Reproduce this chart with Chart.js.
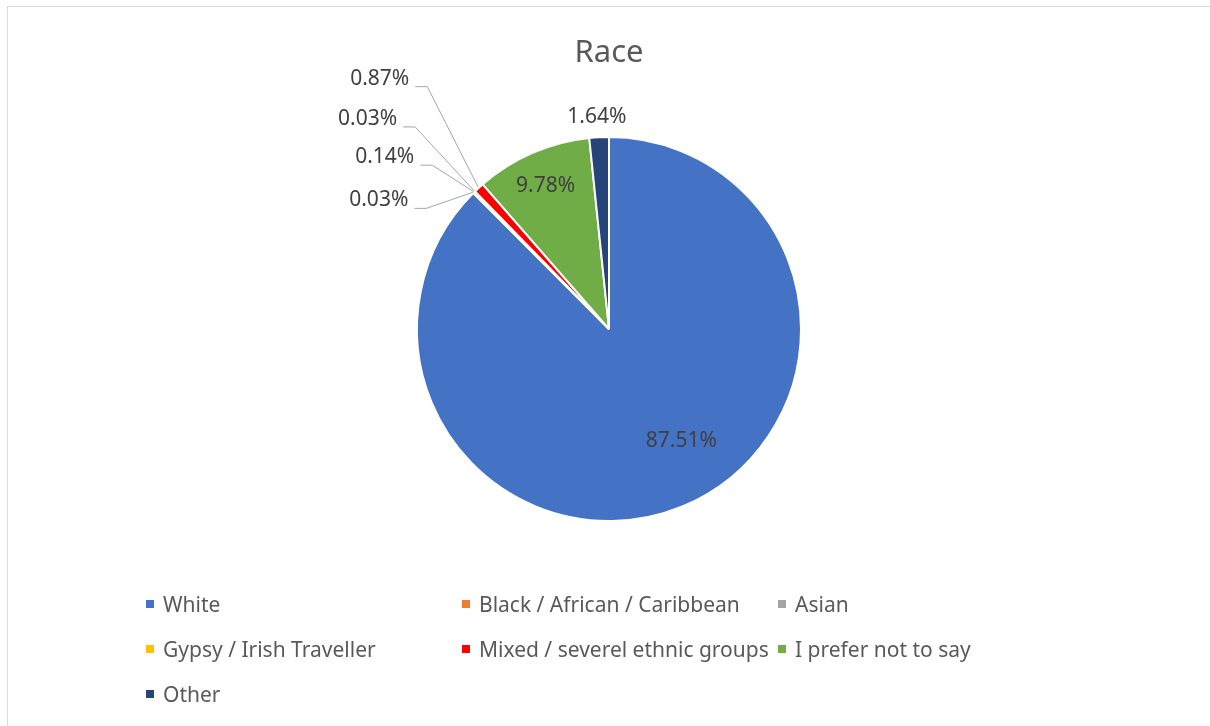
<!DOCTYPE html>
<html>
<head>
<meta charset="utf-8">
<script src="https://cdn.jsdelivr.net/npm/chart.js@4.4.0/dist/chart.umd.min.js"></script>
<style>
  html, body { margin: 0; padding: 0; background: #fff; }
  body { width: 1210px; height: 726px; position: relative; overflow: hidden; font-family: "Noto Sans", sans-serif; }
  #frame { position: absolute; left: 7px; top: 6px; width: 1220px; height: 740px; border: 1px solid #d9d9d9; box-sizing: border-box; }
  #chart { position: absolute; left: 0; top: 0; }
  #title { position: absolute; left: 0; width: 1218px; top: 29px; text-align: center; font-size: 31px; color: #595959; }
  #legend { position: absolute; left: 146px; top: 589px; display: grid; grid-template-columns: 316px 316px 316px; row-gap: 0; }
  .item { height: 45px; line-height: 30px; font-size: 21px; color: #595959; white-space: nowrap; display: flex; align-items: flex-start; }
  .box { width: 8px; height: 8px; margin-top: 11px; margin-right: 9px; flex: none; }
</style>
</head>
<body>
<div id="frame"></div>
<canvas id="chart" width="1210" height="726"></canvas>
<div id="title">Race</div>
<div id="legend"></div>
<script>
// Race breakdown - percentages
const categories = ['White', 'Black / African / Caribbean', 'Asian', 'Gypsy / Irish Traveller',
  'Mixed / severel ethnic groups', 'I prefer not to say', 'Other'];
const shares = [87.51, 0.03, 0.14, 0.03, 0.87, 9.78, 1.64];
const colors = ['#4472C4', '#ED7D31', '#A5A5A5', '#FFC000', '#FF0000', '#70AD47', '#264478'];

// where each label sits, in radius units from the pie centre; lead = draw a leader line
const labelSpots = [
  {dx: 0.377, dy: 0.586},
  {dx: -1.199, dy: -0.670, lead: true},
  {dx: -1.168, dy: -0.895, lead: true},
  {dx: -1.257, dy: -1.094, lead: true},
  {dx: -1.194, dy: -1.304, lead: true},
  {dx: -0.330, dy: -0.743},
  {dx: -0.063, dy: -1.105}
];

const pieLabels = {
  id: 'pieLabels',
  afterDatasetsDraw(chart) {
    const ctx = chart.ctx;
    const arcs = chart.getDatasetMeta(0).data;
    ctx.save();
    ctx.font = '21px "Noto Sans"';
    ctx.textAlign = 'center';
    ctx.textBaseline = 'middle';
    arcs.forEach((arc, i) => {
      const {x, y, startAngle, endAngle, outerRadius} = arc.getProps(['x', 'y', 'startAngle', 'endAngle', 'outerRadius'], true);
      const spot = labelSpots[i];
      const text = shares[i].toFixed(2) + '%';
      const tx = x + spot.dx * outerRadius;
      const ty = y + spot.dy * outerRadius;
      if (spot.lead) {
        const w = ctx.measureText(text).width;
        const mid = (startAngle + endAngle) / 2;
        const ex = x + Math.cos(mid) * (outerRadius + 1);
        const ey = y + Math.sin(mid) * (outerRadius + 1);
        const sx = tx + w / 2 + 6;
        const sy = ty + 8;
        ctx.strokeStyle = '#A6A6A6';
        ctx.lineWidth = 1;
        ctx.beginPath();
        ctx.moveTo(sx, sy);
        ctx.lineTo(sx + 12, sy);
        ctx.lineTo(ex, ey);
        ctx.stroke();
      }
      ctx.fillStyle = '#404040';
      ctx.fillText(text, tx, ty);
    });
    ctx.restore();
  }
};

new Chart(document.getElementById('chart'), {
  type: 'pie',
  data: {
    labels: categories,
    datasets: [{
      data: shares,
      backgroundColor: colors,
      borderColor: '#ffffff',
      borderWidth: 2
    }]
  },
  options: {
    responsive: false,
    animation: false,
    events: [],
    layout: { padding: { left: 416, right: 408, top: 136, bottom: 204 } },
    plugins: {
      legend: { display: false },
      tooltip: { enabled: false },
      title: { display: false }
    }
  },
  plugins: [pieLabels]
});

// legend laid out as a 3-column grid like the original
const legend = document.getElementById('legend');
categories.forEach((name, i) => {
  const item = document.createElement('div');
  item.className = 'item';
  item.innerHTML = `<span class="box" style="background:${colors[i]}"></span><span>${name}</span>`;
  legend.appendChild(item);
});
</script>
</body>
</html>
